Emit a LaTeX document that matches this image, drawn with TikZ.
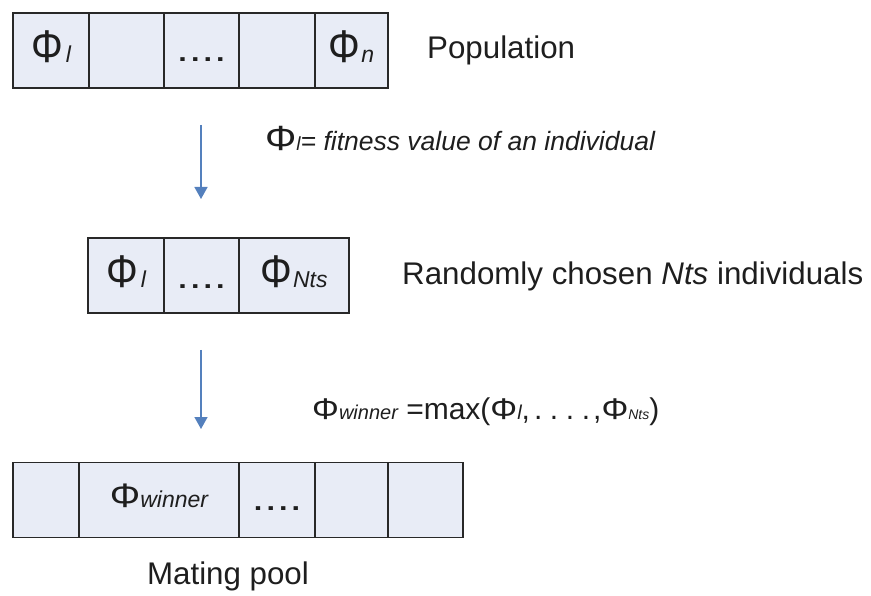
\documentclass[tikz,border=0pt]{standalone}
\usepackage{fontspec}
\setmainfont{Liberation Sans}
\usetikzlibrary{arrows.meta}
\definecolor{cellfill}{RGB}{232,236,246}
\definecolor{cellline}{RGB}{40,40,40}
\definecolor{arrowblue}{RGB}{84,128,189}
\definecolor{ink}{RGB}{30,30,30}
\newcommand{\fsz}[1]{\fontsize{#1}{#1}\selectfont}
% tall phi used in the population and tournament cells
\newcommand{\Phitall}{\scalebox{0.97}[1.12]{\fsz{41}Φ}}
% wider phi used in the formulas and the mating pool
\newcommand{\Phiw}[1]{\scalebox{1.12}[1]{\fsz{#1}Φ}}
\newcommand{\subtxt}[1]{{\fsz{23}\itshape #1}}
\newcommand{\celldots}{\scalebox{1.25}[1]{\fsz{36}....}}
\newcommand{\spdot}{\hspace{7.6pt}.}
\tikzset{
  cell/.style={draw=cellline, fill=cellfill, line width=1.3pt,
    minimum height=75pt, inner sep=0pt, outer sep=0pt,
    text height=25pt, text depth=0pt, text=ink, font=\fsz{22}},
  label/.style={inner sep=0pt, text=ink},
  biglabel/.style={label, font=\fsz{31.3}},
  flow/.style={draw=arrowblue, line width=1.6pt,
    -{Triangle[width=13pt,length=12pt]}},
}
\begin{document}
\begin{tikzpicture}[x=1pt,y=-1pt]
\useasboundingbox (0,0) rectangle (871,596);

% Population row
\node[cell, minimum width=76pt] (p1) at (51,50.5) {\Phitall\hspace{3pt}\subtxt{l}};
\node[cell, minimum width=75pt] (p2) at (126.5,50.5) {};
\node[cell, minimum width=75pt, text height=23pt] (p3) at (201.5,50.5) {\celldots};
\node[cell, minimum width=76pt] (p4) at (277,50.5) {};
\node[cell, minimum width=73pt] (p5) at (351.5,50.5) {\Phitall\hspace{1pt}\subtxt{n}};
\node[biglabel, anchor=base west] (poplbl) at (427,59) {Population};

% tournament of randomly chosen individuals
\node[cell, minimum width=76pt] (t1) at (126,275.5) {\Phitall\hspace{3pt}\subtxt{l}};
\node[cell, minimum width=75pt, text height=26pt] (t2) at (201.5,275.5) {\celldots};
\node[cell, minimum width=110pt] (t3) at (294,275.5) {\Phitall\hspace{1pt}\subtxt{Nts}};
\node[biglabel, anchor=base west] (tourlbl) at (402,285)
  {Randomly chosen \textit{Nts} individuals};

% Mating pool row
\node[cell, minimum width=66pt] (m1) at (46,500) {};
\node[cell, minimum width=160pt, text height=14pt] (m2) at (159,500) {\Phiw{34}\subtxt{winner}};
\node[cell, minimum width=76pt, text height=20pt] (m3) at (277,500) {\celldots};
\node[cell, minimum width=73pt] (m4) at (351.5,500) {};
\node[cell, minimum width=75pt] (m5) at (425.5,500) {};
\node[biglabel, anchor=base] (matelbl) at (228,584) {Mating pool};

% selection steps
\coordinate (s1from) at (201,125);
\coordinate (s1to) at (201,199);
\coordinate (s2from) at (201,350);
\coordinate (s2to) at (201,429);
\draw[flow] (s1from) -- (s1to);
\draw[flow] (s2from) -- (s2to);

\node[label, anchor=base west] (fitlbl) at (265,151)
  {\Phiw{35}{\fsz{19}\itshape l}{\fsz{26.5}\itshape = fitness value of an individual}};
\node[label, anchor=base west] (winlbl) at (312,419)
  {\Phiw{30}{\fsz{20}\itshape winner}{\fsz{30} =max(}\Phiw{30}{\fsz{20}\itshape l}{\fsz{30},\hspace{4pt}.\spdot\spdot\spdot\hspace{3pt},}\Phiw{30}{\fsz{14}\itshape Nts}{\fsz{30})}};
\end{tikzpicture}
\end{document}
